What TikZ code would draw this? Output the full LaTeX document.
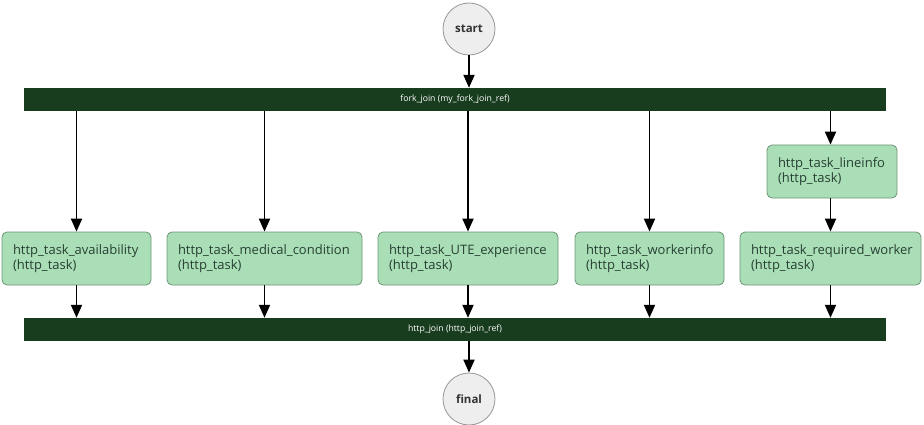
\documentclass[tikz,border=0pt]{standalone}
\usepackage{fontspec}
\setmainfont{Open Sans}
\usetikzlibrary{arrows.meta}
\definecolor{taskfill}{RGB}{170,222,182}
\definecolor{taskdraw}{RGB}{110,150,118}
\definecolor{tasktext}{RGB}{40,64,52}
\definecolor{barfill}{RGB}{24,60,30}
\definecolor{circfill}{RGB}{238,238,238}
\definecolor{circdraw}{RGB}{150,150,150}
\tikzset{
  taskbox/.style={draw=taskdraw, fill=taskfill, rounded corners=5pt, line width=0.8pt,
    minimum height=53pt, inner xsep=11pt, align=left, text=tasktext,
    font=\fontsize{13}{14.5}\selectfont},
  barbox/.style={fill=barfill, minimum width=862pt, minimum height=23pt, inner sep=0pt,
    text=white, font=\fontsize{8.7}{10}\selectfont},
  endcirc/.style={circle, draw=circdraw, fill=circfill, line width=0.8pt, minimum size=52pt,
    inner sep=0pt, text=black!80, font=\bfseries\fontsize{11.5}{13}\selectfont},
  arr/.style={draw=black, line width=1.9pt, -{Triangle[width=11pt,length=13pt]}}
}
\begin{document}
\begin{tikzpicture}[x=1pt,y=-1pt]
\useasboundingbox (0,0) rectangle (924,425);
\node[endcirc] (start) at (469,29) {start};
\node[barbox] (fork) at (455,99.5) {fork\_join (my\_fork\_join\_ref)};
\node[barbox] (join) at (455,329.5) {http\_join (http\_join\_ref)};
\node[endcirc] (final) at (469,399) {final};

\node[taskbox, text width=127pt] (avail) at (76.5,258.5) {http\_task\_availability\\(http\_task)};
\node[taskbox, text width=173pt] (medical) at (264.5,258.5) {http\_task\_medical\_condition\\(http\_task)};
\node[taskbox, text width=158pt] (ute) at (468,258.5) {http\_task\_UTE\_experience\\(http\_task)};
\node[taskbox, text width=127pt] (worker) at (649.5,258.5) {http\_task\_workerinfo\\(http\_task)};
\node[taskbox, text width=159pt] (required) at (830.5,258.5) {http\_task\_required\_worker\\(http\_task)};
\node[taskbox, text width=108pt] (line) at (832,171.5) {http\_task\_lineinfo\\(http\_task)};

\draw[arr] (start) -- (start |- fork.north);
\foreach \t in {avail,medical,ute,worker} {
  \draw[arr] (fork.south -| \t) -- (\t);
  \draw[arr] (\t) -- (join.north -| \t);
}
\draw[arr] (fork.south -| required) -- (line.north -| required);
\draw[arr] (line.south -| required) -- (required);
\draw[arr] (required) -- (join.north -| required);
\draw[arr] (join.south -| final) -- (final);
\end{tikzpicture}
\end{document}
